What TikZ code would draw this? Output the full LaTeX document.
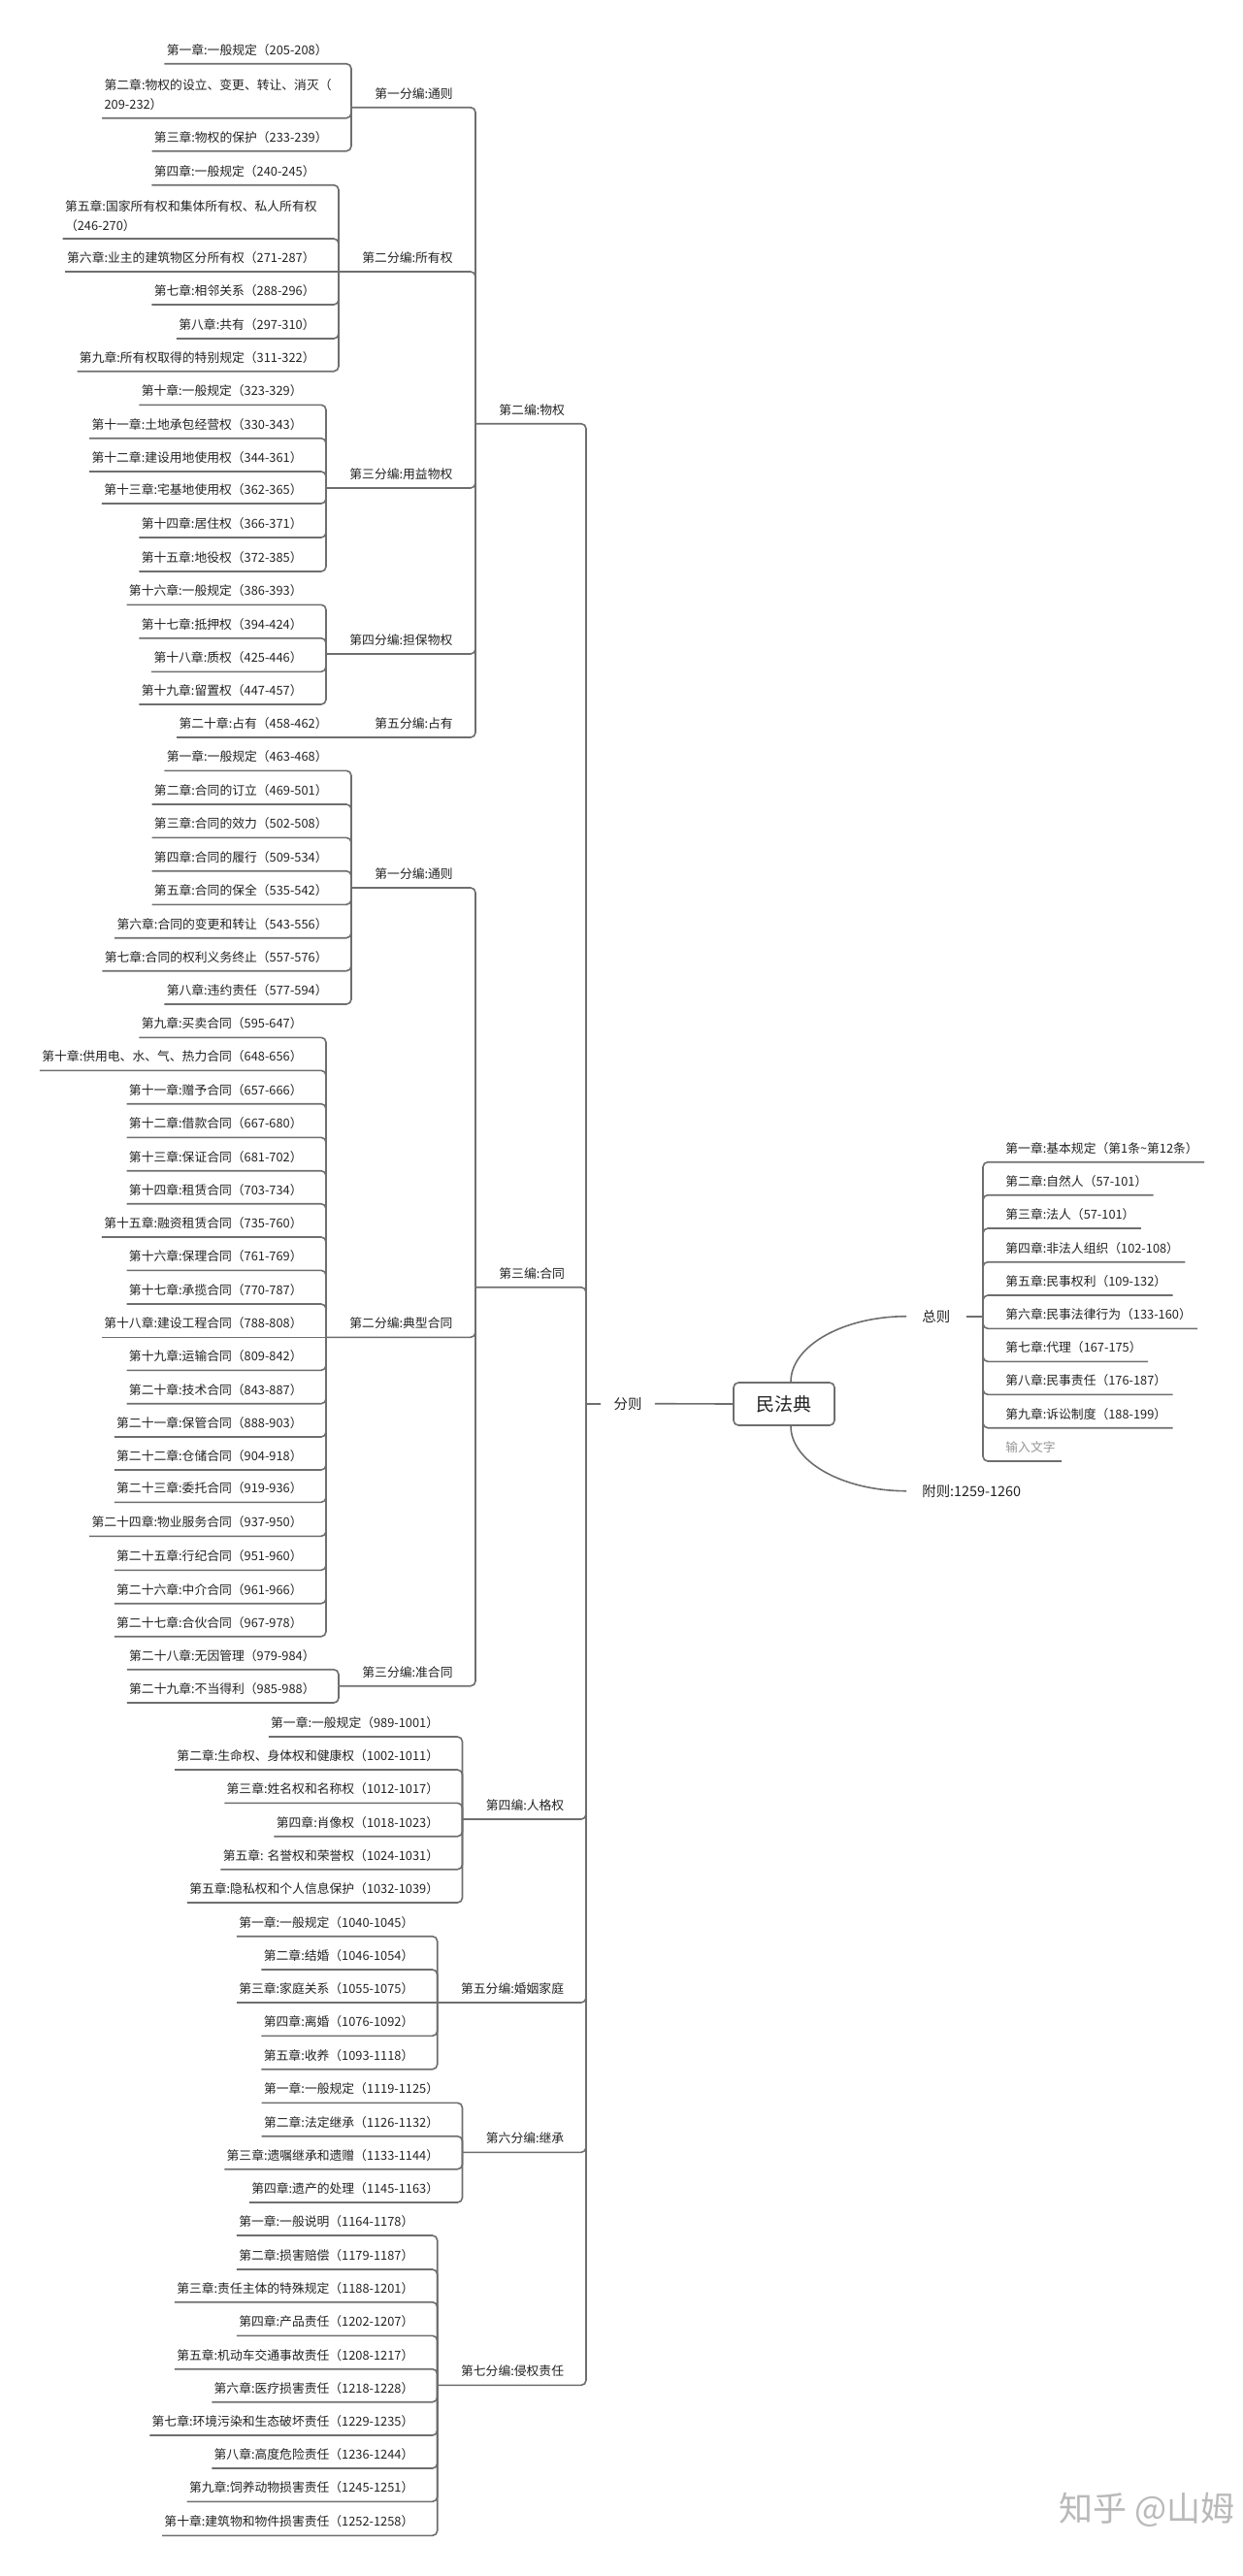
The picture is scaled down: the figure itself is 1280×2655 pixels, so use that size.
\documentclass[tikz,border=0pt]{standalone}
\usepackage{fontspec}
\setmainfont{Noto Sans CJK SC}

\definecolor{linegray}{RGB}{110,110,110}
\definecolor{ink}{RGB}{35,35,35}
\definecolor{hint}{RGB}{150,150,150}
\definecolor{markgray}{RGB}{185,185,185}
\newcommand{\leaffont}{\fontsize{6.4pt}{10pt}\selectfont}
\newcommand{\topfont}{\fontsize{7.2pt}{9pt}\selectfont}
\newcommand{\rootfont}{\fontsize{9.5pt}{11pt}\selectfont}
\newcommand{\markfont}{\fontsize{17.5pt}{20pt}\selectfont}

\begin{document}
\begin{tikzpicture}[
  x=0.5pt, y=-0.5pt,
  line/.style={draw=linegray, line width=0.8pt, rounded corners=2.5pt},
  rootbox/.style={draw=linegray, line width=0.8pt, rounded corners=2.5pt, fill=white,
              minimum width=52pt, minimum height=22pt, inner sep=0pt,
              font=\rootfont, text=ink},
  topic/.style={font=\topfont, text=ink, inner xsep=6.5pt, inner ysep=2pt},
  leaf/.style={anchor=south east, font=\leaffont, text=ink, inner xsep=1pt,
              inner ysep=3.55pt, text height=5pt, text depth=1pt},
  leaftwo/.style={anchor=south east, font=\leaffont, text=ink, inner xsep=1pt,
              inner ysep=3.55pt, align=left},
  part/.style={anchor=south west, font=\leaffont, text=ink, inner xsep=12pt,
              inner ysep=3.55pt, text height=5pt, text depth=1pt},
  chap/.style={anchor=south west, font=\leaffont, text=ink, inner xsep=3pt,
              inner ysep=3.55pt, text height=5pt, text depth=1pt},
  wm/.style={font=\markfont, text=markgray, inner sep=0pt},
]
\fill[white] (0,0) rectangle (1280,2655);
\useasboundingbox (0,0) rectangle (1280,2655);

\node[rootbox] (root) at (808,1447) {民法典};

\node[topic] (fenze) at (647,1446.7) {分则};
\coordinate (fzspine) at (604,1446.7);
\node[topic, anchor=west, inner xsep=8pt] (zongze) at (934,1356.7) {总则};
\coordinate (zzspine) at (1013,1356.7);
\node[topic, anchor=west, inner xsep=8pt] (fuze) at (934,1536.7) {附则:1259-1260};

\node[chap] (z1) at (1030,1197.7) {第一章:基本规定（第1条\textasciitilde 第12条）};
\node[chap] (z2) at (1030,1231.7) {第二章:自然人（57-101）};
\node[chap] (z3) at (1030,1266) {第三章:法人（57-101）};
\node[chap] (z4) at (1030,1300.7) {第四章:非法人组织（102-108）};
\node[chap] (z5) at (1030,1335) {第五章:民事权利（109-132）};
\node[chap] (z6) at (1030,1369.3) {第六章:民事法律行为（133-160）};
\node[chap] (z7) at (1030,1403.3) {第七章:代理（167-175）};
\node[chap] (z8) at (1030,1437.3) {第八章:民事责任（176-187）};
\node[chap] (z9) at (1030,1471.7) {第九章:诉讼制度（188-199）};
\node[chap, text=hint] (zin) at (1030,1506) {输入文字};

\node[part] (b2) at (490,436.7) {第二编:物权};
\node[part] (p21) at (362,110.7) {第一分编:通则};
\node[part] (p22) at (349,280) {第二分编:所有权};
\node[part] (p23) at (336,503) {第三分编:用益物权};
\node[part] (p24) at (336,674) {第四分编:担保物权};
\node[part] (p25) at (362,760) {第五分编:占有};

\node[leaf] (a205) at (340,65.7) {第一章:一般规定（205-208）};
\node[leaftwo] (a209) at (344,121.7) {第二章:物权的设立、变更、转让、消灭（\\209-232）};
\node[leaf] (a233) at (340,155.7) {第三章:物权的保护（233-239）};

\node[leaf] (a240) at (327,190.7) {第四章:一般规定（240-245）};
\node[leaftwo] (a246) at (329,246) {第五章:国家所有权和集体所有权、私人所有权\\（246-270）};
\node[leaf] (a271) at (327,280) {第六章:业主的建筑物区分所有权（271-287）};
\node[leaf] (a288) at (327,314) {第七章:相邻关系（288-296）};
\node[leaf] (a297) at (327,349) {第八章:共有（297-310）};
\node[leaf] (a311) at (327,382.7) {第九章:所有权取得的特别规定（311-322）};

\node[leaf] (a323) at (314,417.3) {第十章:一般规定（323-329）};
\node[leaf] (a330) at (314,451.7) {第十一章:土地承包经营权（330-343）};
\node[leaf] (a344) at (314,486) {第十二章:建设用地使用权（344-361）};
\node[leaf] (a362) at (314,519) {第十三章:宅基地使用权（362-365）};
\node[leaf] (a366) at (314,554) {第十四章:居住权（366-371）};
\node[leaf] (a372) at (314,589) {第十五章:地役权（372-385）};

\node[leaf] (a386) at (314,623.3) {第十六章:一般规定（386-393）};
\node[leaf] (a394) at (314,657.7) {第十七章:抵押权（394-424）};
\node[leaf] (a425) at (314,692.3) {第十八章:质权（425-446）};
\node[leaf] (a447) at (314,726) {第十九章:留置权（447-457）};

\node[leaf] (a458) at (340,760) {第二十章:占有（458-462）};

\node[part] (b3) at (490,1326.7) {第三编:合同};
\node[part] (p31) at (362,915) {第一分编:通则};
\node[part] (p32) at (336,1378.3) {第二分编:典型合同};
\node[part] (p33) at (349,1737.7) {第三分编:准合同};

\node[leaf] (a463) at (340,794.3) {第一章:一般规定（463-468）};
\node[leaf] (a469) at (340,829) {第二章:合同的订立（469-501）};
\node[leaf] (a502) at (340,863.3) {第三章:合同的效力（502-508）};
\node[leaf] (a509) at (340,897.7) {第四章:合同的履行（509-534）};
\node[leaf] (a535) at (340,932.3) {第五章:合同的保全（535-542）};
\node[leaf] (a543) at (340,966.7) {第六章:合同的变更和转让（543-556）};
\node[leaf] (a557) at (340,1000.7) {第七章:合同的权利义务终止（557-576）};
\node[leaf] (a577) at (340,1035) {第八章:违约责任（577-594）};

\node[leaf] (a595) at (314,1069.3) {第九章:买卖合同（595-647）};
\node[leaf] (a648) at (314,1103.3) {第十章:供用电、水、气、热力合同（648-656）};
\node[leaf] (a657) at (314,1137.7) {第十一章:赠予合同（657-666）};
\node[leaf] (a667) at (314,1172.3) {第十二章:借款合同（667-680）};
\node[leaf] (a681) at (314,1206.7) {第十三章:保证合同（681-702）};
\node[leaf] (a703) at (314,1240.7) {第十四章:租赁合同（703-734）};
\node[leaf] (a735) at (314,1275) {第十五章:融资租赁合同（735-760）};
\node[leaf] (a761) at (314,1309.3) {第十六章:保理合同（761-769）};
\node[leaf] (a770) at (314,1344) {第十七章:承揽合同（770-787）};
\node[leaf] (a788) at (314,1378.3) {第十八章:建设工程合同（788-808）};
\node[leaf] (a809) at (314,1412.3) {第十九章:运输合同（809-842）};
\node[leaf] (a843) at (314,1446.7) {第二十章:技术合同（843-887）};
\node[leaf] (a888) at (314,1481) {第二十一章:保管合同（888-903）};
\node[leaf] (a904) at (314,1515) {第二十二章:仓储合同（904-918）};
\node[leaf] (a919) at (314,1548.3) {第二十三章:委托合同（919-936）};
\node[leaf] (a937) at (314,1583.3) {第二十四章:物业服务合同（937-950）};
\node[leaf] (a951) at (314,1618.3) {第二十五章:行纪合同（951-960）};
\node[leaf] (a961) at (314,1652.7) {第二十六章:中介合同（961-966）};
\node[leaf] (a967) at (314,1686.7) {第二十七章:合伙合同（967-978）};

\node[leaf] (a979) at (327,1720.7) {第二十八章:无因管理（979-984）};
\node[leaf] (a985) at (327,1755) {第二十九章:不当得利（985-988）};

\node[part] (b4) at (476.5,1875) {第四编:人格权};
\node[leaf] (a989) at (454.5,1790) {第一章:一般规定（989-1001）};
\node[leaf] (a1002) at (454.5,1824) {第二章:生命权、身体权和健康权（1002-1011）};
\node[leaf] (a1012) at (454.5,1858.3) {第三章:姓名权和名称权（1012-1017）};
\node[leaf] (a1018) at (454.5,1892.7) {第四章:肖像权（1018-1023）};
\node[leaf] (a1024) at (454.5,1926.7) {第五章: 名誉权和荣誉权（1024-1031）};
\node[leaf] (a1032) at (454.5,1961) {第五章:隐私权和个人信息保护（1032-1039）};

\node[part] (b5) at (450.7,2064) {第五分编:婚姻家庭};
\node[leaf] (a1040) at (428.7,1995.7) {第一章:一般规定（1040-1045）};
\node[leaf] (a1046) at (428.7,2030) {第二章:结婚（1046-1054）};
\node[leaf] (a1055) at (428.7,2064) {第三章:家庭关系（1055-1075）};
\node[leaf] (a1076) at (428.7,2098.3) {第四章:离婚（1076-1092）};
\node[leaf] (a1093) at (428.7,2132.7) {第五章:收养（1093-1118）};

\node[part] (b6) at (476.5,2218.3) {第六分编:继承};
\node[leaf] (a1119) at (454.5,2167.3) {第一章:一般规定（1119-1125）};
\node[leaf] (a1126) at (454.5,2201.7) {第二章:法定继承（1126-1132）};
\node[leaf] (a1133) at (454.5,2235.7) {第三章:遗嘱继承和遗赠（1133-1144）};
\node[leaf] (a1145) at (454.5,2270) {第四章:遗产的处理（1145-1163）};

\node[part] (b7) at (450.7,2458.3) {第七分编:侵权责任};
\node[leaf] (a1164) at (428.7,2304) {第一章:一般说明（1164-1178）};
\node[leaf] (a1179) at (428.7,2339) {第二章:损害赔偿（1179-1187）};
\node[leaf] (a1188) at (428.7,2372.7) {第三章:责任主体的特殊规定（1188-1201）};
\node[leaf] (a1202) at (428.7,2407.3) {第四章:产品责任（1202-1207）};
\node[leaf] (a1208) at (428.7,2441.7) {第五章:机动车交通事故责任（1208-1217）};
\node[leaf] (a1218) at (428.7,2475.7) {第六章:医疗损害责任（1218-1228）};
\node[leaf] (a1229) at (428.7,2510) {第七章:环境污染和生态破坏责任（1229-1235）};
\node[leaf] (a1236) at (428.7,2544) {第八章:高度危险责任（1236-1244）};
\node[leaf] (a1245) at (428.7,2578.3) {第九章:饲养动物损害责任（1245-1251）};
\node[leaf] (a1252) at (428.7,2613.3) {第十章:建筑物和物件损害责任（1252-1258）};

\node[wm] (mark) at (1182,2587) {知乎 @山姆};

\draw[line] (root.west) -- (fenze.east);
\draw[line] (fenze.west) -- (fzspine);
\draw[line] ([xshift=3.5pt]root.north) .. controls +(0,-37) and +(-65,0) .. (zongze.west);
\draw[line] ([xshift=3.5pt]root.south) .. controls +(0,37) and +(-65,0) .. (fuze.west);
\draw[line] (zongze.east) -- (zzspine);

\draw[line] (zzspine) |- (z1.south west) -- (z1.south east);
\draw[line] (zzspine) |- (z2.south west) -- (z2.south east);
\draw[line] (zzspine) |- (z3.south west) -- (z3.south east);
\draw[line] (zzspine) |- (z4.south west) -- (z4.south east);
\draw[line] (zzspine) |- (z5.south west) -- (z5.south east);
\draw[line] (zzspine) |- (z6.south west) -- (z6.south east);
\draw[line] (zzspine) |- (z7.south west) -- (z7.south east);
\draw[line] (zzspine) |- (z8.south west) -- (z8.south east);
\draw[line] (zzspine) |- (z9.south west) -- (z9.south east);
\draw[line] (zzspine) |- (zin.south west) -- (zin.south east);

\draw[line] (b2.south west) -| (fzspine);
\draw[line] (b3.south west) -| (fzspine);
\draw[line] (b4.south west) -| (fzspine);
\draw[line] (b5.south west) -| (fzspine);
\draw[line] (b6.south west) -| (fzspine);
\draw[line] (b7.south west) -| (fzspine);

\draw[line] (p21.south west) -| (b2.south west);
\draw[line] (p22.south west) -| (b2.south west);
\draw[line] (p23.south west) -| (b2.south west);
\draw[line] (p24.south west) -| (b2.south west);
\draw[line] (p25.south west) -| (b2.south west);
\draw[line] (p31.south west) -| (b3.south west);
\draw[line] (p32.south west) -| (b3.south west);
\draw[line] (p33.south west) -| (b3.south west);

\draw[line] (a205.south west) -| (p21.south west);
\draw[line] (a209.south west) -| (p21.south west);
\draw[line] (a233.south west) -| (p21.south west);

\draw[line] (a240.south west) -| (p22.south west);
\draw[line] (a246.south west) -| (p22.south west);
\draw[line] (a271.south west) -- (p22.south west);
\draw[line] (a288.south west) -| (p22.south west);
\draw[line] (a297.south west) -| (p22.south west);
\draw[line] (a311.south west) -| (p22.south west);

\draw[line] (a323.south west) -| (p23.south west);
\draw[line] (a330.south west) -| (p23.south west);
\draw[line] (a344.south west) -| (p23.south west);
\draw[line] (a362.south west) -| (p23.south west);
\draw[line] (a366.south west) -| (p23.south west);
\draw[line] (a372.south west) -| (p23.south west);

\draw[line] (a386.south west) -| (p24.south west);
\draw[line] (a394.south west) -| (p24.south west);
\draw[line] (a425.south west) -| (p24.south west);
\draw[line] (a447.south west) -| (p24.south west);

\draw[line] (a458.south west) -- (p25.south west);

\draw[line] (a463.south west) -| (p31.south west);
\draw[line] (a469.south west) -| (p31.south west);
\draw[line] (a502.south west) -| (p31.south west);
\draw[line] (a509.south west) -| (p31.south west);
\draw[line] (a535.south west) -| (p31.south west);
\draw[line] (a543.south west) -| (p31.south west);
\draw[line] (a557.south west) -| (p31.south west);
\draw[line] (a577.south west) -| (p31.south west);

\draw[line] (a595.south west) -| (p32.south west);
\draw[line] (a648.south west) -| (p32.south west);
\draw[line] (a657.south west) -| (p32.south west);
\draw[line] (a667.south west) -| (p32.south west);
\draw[line] (a681.south west) -| (p32.south west);
\draw[line] (a703.south west) -| (p32.south west);
\draw[line] (a735.south west) -| (p32.south west);
\draw[line] (a761.south west) -| (p32.south west);
\draw[line] (a770.south west) -| (p32.south west);
\draw[line] (a788.south west) -- (p32.south west);
\draw[line] (a809.south west) -| (p32.south west);
\draw[line] (a843.south west) -| (p32.south west);
\draw[line] (a888.south west) -| (p32.south west);
\draw[line] (a904.south west) -| (p32.south west);
\draw[line] (a919.south west) -| (p32.south west);
\draw[line] (a937.south west) -| (p32.south west);
\draw[line] (a951.south west) -| (p32.south west);
\draw[line] (a961.south west) -| (p32.south west);
\draw[line] (a967.south west) -| (p32.south west);

\draw[line] (a979.south west) -| (p33.south west);
\draw[line] (a985.south west) -| (p33.south west);

\draw[line] (a989.south west) -| (b4.south west);
\draw[line] (a1002.south west) -| (b4.south west);
\draw[line] (a1012.south west) -| (b4.south west);
\draw[line] (a1018.south west) -| (b4.south west);
\draw[line] (a1024.south west) -| (b4.south west);
\draw[line] (a1032.south west) -| (b4.south west);

\draw[line] (a1040.south west) -| (b5.south west);
\draw[line] (a1046.south west) -| (b5.south west);
\draw[line] (a1055.south west) -- (b5.south west);
\draw[line] (a1076.south west) -| (b5.south west);
\draw[line] (a1093.south west) -| (b5.south west);

\draw[line] (a1119.south west) -| (b6.south west);
\draw[line] (a1126.south west) -| (b6.south west);
\draw[line] (a1133.south west) -| (b6.south west);
\draw[line] (a1145.south west) -| (b6.south west);

\draw[line] (a1164.south west) -| (b7.south west);
\draw[line] (a1179.south west) -| (b7.south west);
\draw[line] (a1188.south west) -| (b7.south west);
\draw[line] (a1202.south west) -| (b7.south west);
\draw[line] (a1208.south west) -| (b7.south west);
\draw[line] (a1218.south west) -| (b7.south west);
\draw[line] (a1229.south west) -| (b7.south west);
\draw[line] (a1236.south west) -| (b7.south west);
\draw[line] (a1245.south west) -| (b7.south west);
\draw[line] (a1252.south west) -| (b7.south west);

\end{tikzpicture}
\end{document}
